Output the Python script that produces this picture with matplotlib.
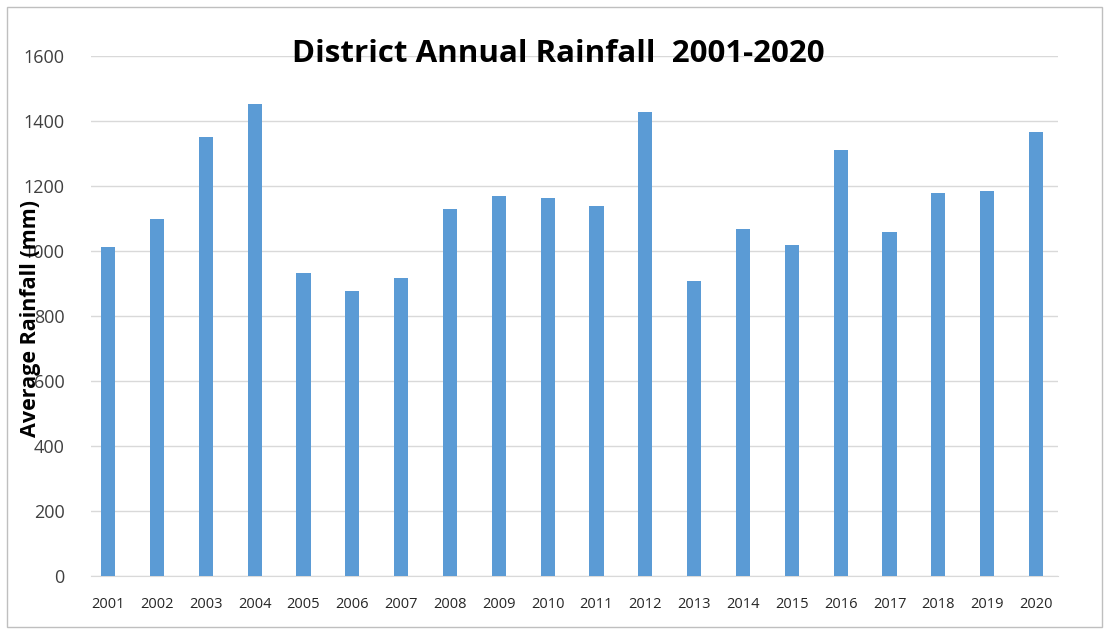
import matplotlib
matplotlib.use('Agg')
import matplotlib.pyplot as plt
from matplotlib.patches import Rectangle

# Rainfall per year
anni = ['2001', '2002', '2003', '2004', '2005', '2006', '2007', '2008', '2009', '2010',
        '2011', '2012', '2013', '2014', '2015', '2016', '2017', '2018', '2019', '2020']
rainfall_mm = [1012, 1098, 1351, 1452, 932, 877, 917, 1129, 1169, 1163,
               1138, 1428, 908, 1068, 1018, 1311, 1058, 1178, 1185, 1366]
y_ticks = [0, 200, 400, 600, 800, 1000, 1200, 1400, 1600]

plt.rcParams['font.family'] = ['Open Sans', 'DejaVu Sans']

fig = plt.figure(figsize=(11.06, 6.30), dpi=100)
ax = fig.add_axes([0.0823, 0.0857, 0.8743, 0.8253])

pos = list(range(len(anni)))
ax.bar(pos, rainfall_mm, width=0.29, color='#5b9bd5', zorder=3)

ax.set_ylim(0, 1600)
ax.set_xlim(-0.35, len(anni) - 0.55)
ax.set_yticks(y_ticks)
ax.set_yticklabels([str(v) for v in y_ticks], fontsize=13, color='#404040')
ax.set_xticks(pos)
ax.set_xticklabels(anni, fontsize=10.5, color='#262626')
ax.tick_params(axis='both', length=0)
ax.tick_params(axis='y', pad=19)
ax.tick_params(axis='x', pad=15)

ax.grid(axis='y', color='#d9d9d9', linewidth=1, zorder=0)
for s in ['top', 'right', 'left']:
    ax.spines[s].set_visible(False)
ax.spines['bottom'].set_color('#d9d9d9')

fig.text(0.505, 0.915, 'District Annual Rainfall  2001-2020', ha='center', va='center',
         fontsize=22.5, fontweight='bold', color='black')
fig.text(0.028, 0.495, 'Average Rainfall (mm)', ha='center', va='center', rotation=90,
         fontsize=15.5, fontweight='bold', color='black')

# light border round the whole chart
fig.patches.append(Rectangle((0.006, 0.004), 0.99, 0.985, transform=fig.transFigure,
                             fill=False, edgecolor='#bfbfbf', linewidth=1))

fig.savefig('out.png', dpi=100)
